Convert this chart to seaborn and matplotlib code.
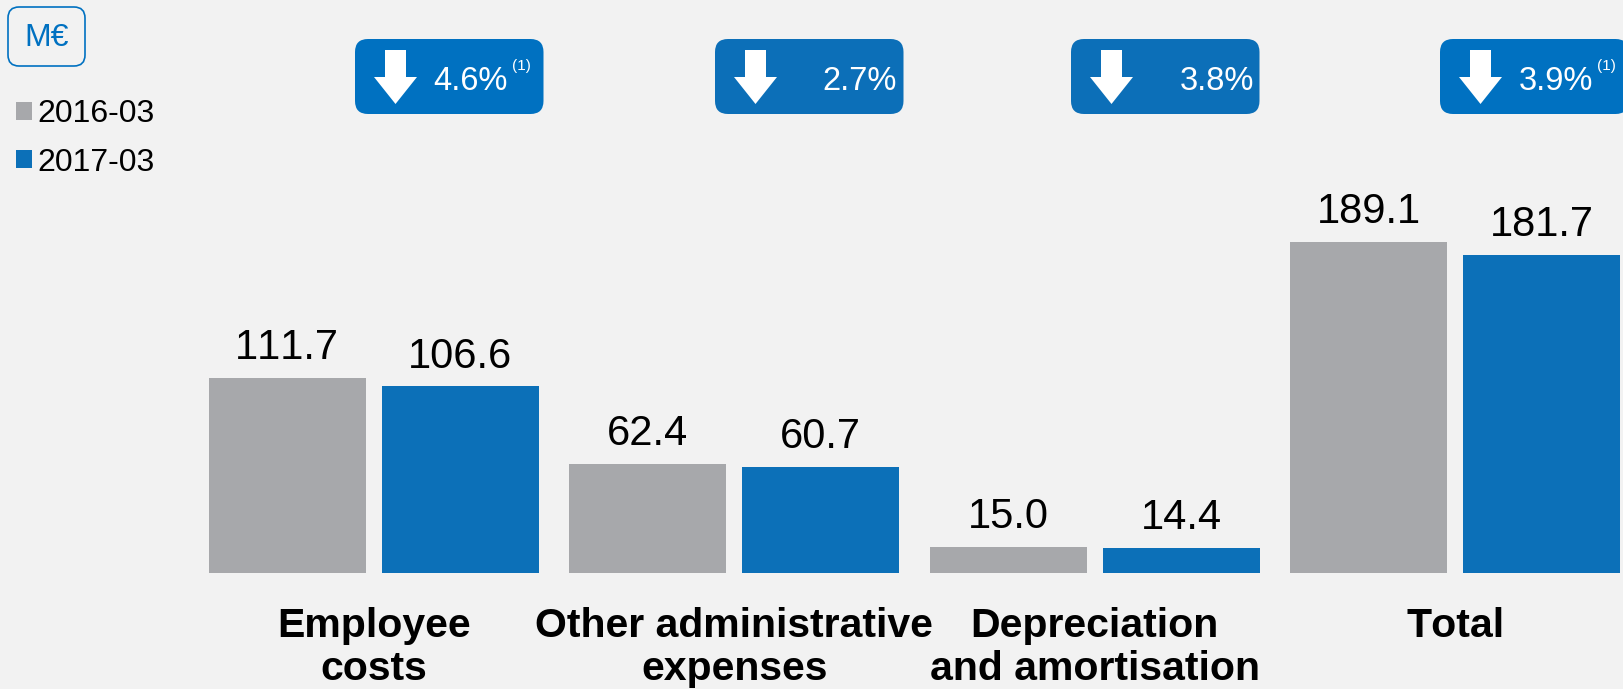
import matplotlib
matplotlib.use("Agg")
import matplotlib.pyplot as plt
from matplotlib.patches import FancyBboxPatch, Polygon
from matplotlib.transforms import Affine2D
import pandas as pd
import seaborn as sns

# Operating expenses by category, in millions of euros
categories = ["Employee\ncosts", "Other administrative\nexpenses",
              "Depreciation\nand amortisation", "Total"]
values_2016 = [111.7, 62.4, 15.0, 189.1]
values_2017 = [106.6, 60.7, 14.4, 181.7]
periods = ["2016-03", "2017-03"]
changes = ["4.6%", "2.7%", "3.8%", "3.9%"]
footnoted = [True, False, False, True]

GREY, BLUE = "#A7A8AB", "#0C70B8"
BADGE_BRIGHT, BADGE_DEEP = "#0071C1", "#0C6FB8"
badge_colors = [BADGE_BRIGHT, BADGE_DEEP, BADGE_DEEP, BADGE_BRIGHT]
BACKGROUND = "#F2F2F2"
W, H = 1624, 689

sns.set_theme(style="white", rc={"figure.facecolor": BACKGROUND, "axes.facecolor": BACKGROUND})
plt.rcParams["font.family"] = ["Liberation Sans", "DejaVu Sans"]
plt.rcParams["text.kerning_factor"] = 20

df = pd.DataFrame({
    "category": categories * 2,
    "period": [periods[0]] * 4 + [periods[1]] * 4,
    "value": values_2016 + values_2017,
})

fig = plt.figure(figsize=(W / 100, H / 100), dpi=100)
ax = fig.add_axes([0, 116 / H, 1, 573 / H])
sns.barplot(data=df, x="category", y="value", hue="period", palette=[GREY, BLUE],
            width=0.96, gap=0.093, saturation=1, linewidth=0, ax=ax)

# Axis window: category step of 360.5 px, 1.75 px per million euros
ax.set_xlim(-373.7 / 360.5, (W - 373.7) / 360.5)
ax.set_ylim(0, 573 / 1.75)
ax.set_xlabel("")
ax.set_ylabel("")
ax.set_yticks([])
ax.tick_params(axis="x", length=0, pad=24.5)
ax.set_xticks(range(len(categories)))
ax.set_xticklabels(categories, fontsize=29.5, fontweight="bold", color="black", linespacing=1.17)
sns.despine(ax=ax, left=True, bottom=True)

for container in ax.containers:
    ax.bar_label(container, fmt="%.1f", fontsize=30, color="black", padding=7)

# Pixel coordinates measured from the top-left corner of the figure
px = Affine2D().scale(1 / W, -1 / H).translate(0, 1) + fig.transFigure

legend = ax.legend(loc="upper left", bbox_to_anchor=(9.5 / W, 1 - 93 / H), bbox_transform=fig.transFigure,
                   frameon=False, fontsize=23, labelcolor="black", handlelength=0.5, handleheight=0.5,
                   handletextpad=0.16, labelspacing=0.57, borderpad=0.2, borderaxespad=0)

# Unit tag
fig.add_artist(FancyBboxPatch((8, 7), 77, 59, boxstyle="round,pad=0,rounding_size=11",
                              fc="none", ec=BADGE_BRIGHT, lw=1.2, transform=px))
fig.text(46.5, 38, "M€", transform=px, ha="center", va="center", fontsize=23, color=BADGE_BRIGHT)

# Change badges above each category
badge_left = [355, 715, 1071, 1440]
text_center = [470, 860, 1217, 1556]
note_center = [521, None, None, 1606]
for left, label, tx, note, has_note, color in zip(badge_left, changes, text_center, note_center,
                                                   footnoted, badge_colors):
    fig.add_artist(FancyBboxPatch((left, 39), 188.5, 75, boxstyle="round,pad=0,rounding_size=13",
                                  fc=color, ec="none", transform=px))
    c = left + 40.5
    fig.add_artist(Polygon([(c - 10.5, 50), (c + 10.5, 50), (c + 10.5, 77), (c + 21.5, 77),
                            (c, 104), (c - 21.5, 77), (c - 10.5, 77)],
                           closed=True, fc="white", ec="none", transform=px))
    fig.text(tx, 81, label, transform=px, ha="center", va="center", fontsize=23.5, color="white")
    if has_note:
        fig.text(note, 66, "(1)", transform=px, ha="center", va="center", fontsize=11, color="white")

fig.savefig("out.png", dpi=100, facecolor=BACKGROUND)
